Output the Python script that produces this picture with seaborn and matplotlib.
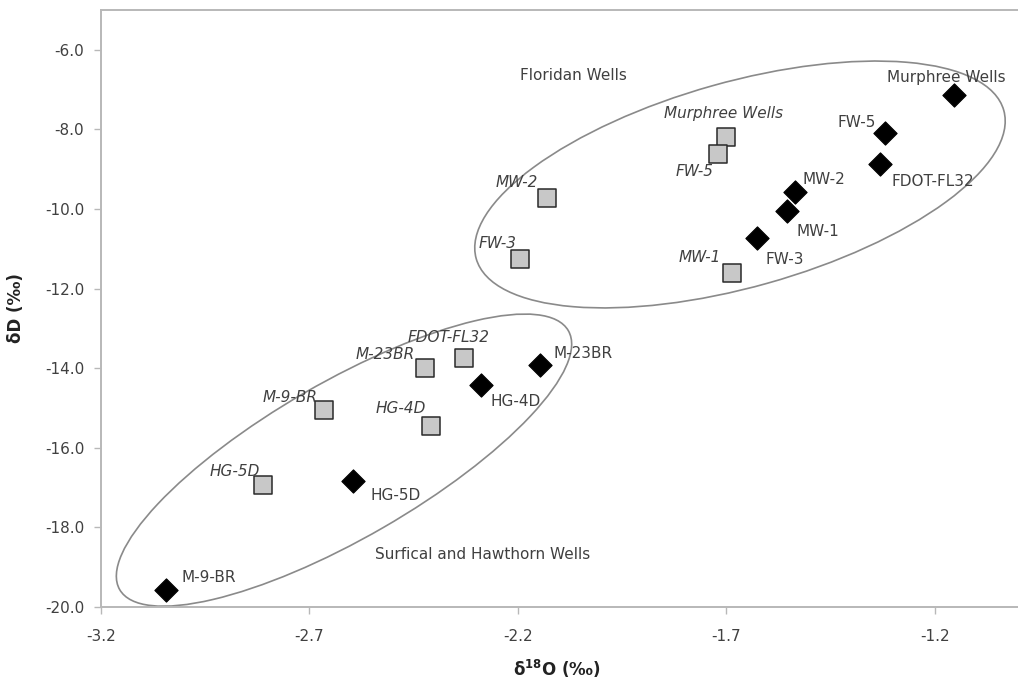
import matplotlib

matplotlib.use("Agg")
import matplotlib.pyplot as plt
import matplotlib.transforms as mtransforms
import pandas as pd
import seaborn as sns
from matplotlib.patches import Ellipse

sns.set_style("white")
plt.rcParams["font.family"] = ["DejaVu Sans"]
plt.rcParams["mathtext.fontset"] = "dejavusans"

# gray squares (italic labels)
square_labels = ["MW-2", "FW-3", "Murphree Wells", "FW-5", "MW-1",
                 "M-23BR", "FDOT-FL32", "HG-4D", "M-9-BR", "HG-5D"]
square_d18o = [-2.131, -2.195, -1.701, -1.719, -1.686, -2.422, -2.329, -2.408, -2.664, -2.811]
square_dd = [-9.72, -11.26, -8.19, -8.61, -11.60, -14.00, -13.74, -15.44, -15.06, -16.94]

# black diamonds (upright labels)
diamond_labels = ["Murphree Wells", "FW-5", "FDOT-FL32", "MW-2", "MW-1",
                  "FW-3", "M-23BR", "HG-4D", "HG-5D", "M-9-BR"]
diamond_d18o = [-1.153, -1.318, -1.331, -1.536, -1.553, -1.627, -2.146, -2.289, -2.596, -3.044]
diamond_dd = [-7.14, -8.10, -8.86, -9.57, -10.06, -10.74, -13.91, -14.41, -16.84, -19.58]

x_ticks = [-3.2, -2.7, -2.2, -1.7, -1.2]
y_ticks = [-6.0, -8.0, -10.0, -12.0, -14.0, -16.0, -18.0, -20.0]

group_names = ["Floridan Wells", "Surfical and Hawthorn Wells"]
group_centers = [(-1.667, -9.384), (-2.617, -16.31)]

# label placement, pixel offsets from the marker (dx, dy, ha)
square_offsets = {
    "MW-2": (-9, 15, "right"), "FW-3": (-3, 16, "right"),
    "Murphree Wells": (-2, 23, "center"), "FW-5": (-5, -18, "right"),
    "MW-1": (-11, 15, "right"), "M-23BR": (-10, 14, "right"),
    "FDOT-FL32": (-15, 20, "center"), "HG-4D": (-5, 17, "right"),
    "M-9-BR": (-7, 13, "right"), "HG-5D": (-3, 14, "right"),
}
diamond_offsets = {
    "Murphree Wells": (-8, 18, "center"), "FW-5": (-10, 11, "right"),
    "FDOT-FL32": (11, -18, "left"), "MW-2": (8, 12, "left"),
    "MW-1": (9, -20, "left"), "FW-3": (9, -21, "left"),
    "M-23BR": (13, 11, "left"), "HG-4D": (10, -17, "left"),
    "HG-5D": (18, -14, "left"), "M-9-BR": (15, 13, "left"),
}
group_text_pos = [(-2.066, -6.654), (-2.284, -18.68)]
# ellipse shape in pixels: semi-major, semi-minor, angle
ellipse_shapes = [(274, 102.5, 15.7), (259, 78, 30.0)]

TEXT = "#404040"
GRID = "#b8b8b8"

df_sq = pd.DataFrame({"d18O": square_d18o, "dD": square_dd, "label": square_labels})
df_di = pd.DataFrame({"d18O": diamond_d18o, "dD": diamond_dd, "label": diamond_labels})

fig = plt.figure(figsize=(10.18, 6.88), dpi=100)
ax = fig.add_axes([101 / 1018, 1 - 607 / 688, 917 / 1018, 597 / 688])

ax.set_xlim(-3.2, -1.0)
ax.set_ylim(-20.0, -5.0)

for (cx, cy), (a, b, ang) in zip(group_centers, ellipse_shapes):
    trans = fig.dpi_scale_trans + mtransforms.ScaledTranslation(cx, cy, ax.transData)
    ax.add_patch(Ellipse((0, 0), 2 * a / 100, 2 * b / 100, angle=ang,
                         transform=trans, fill=False, edgecolor="#8a8a8a", lw=1.2))

sns.scatterplot(data=df_sq, x="d18O", y="dD", marker="s", s=172, color="#c8c8c8",
                edgecolor="#2a2a2a", linewidth=1.1, ax=ax, zorder=3)
sns.scatterplot(data=df_di, x="d18O", y="dD", marker="D", s=140, color="black",
                edgecolor="black", linewidth=0.8, ax=ax, zorder=3)

for _, row in df_sq.iterrows():
    dx, dy, ha = square_offsets[row["label"]]
    ax.annotate(row["label"], (row["d18O"], row["dD"]), xytext=(dx, dy),
                textcoords="offset pixels", ha=ha, va="center", fontsize=11,
                style="italic", color=TEXT, zorder=4)
for _, row in df_di.iterrows():
    dx, dy, ha = diamond_offsets[row["label"]]
    ax.annotate(row["label"], (row["d18O"], row["dD"]), xytext=(dx, dy),
                textcoords="offset pixels", ha=ha, va="center", fontsize=11,
                color=TEXT, zorder=4)

for name, (tx, ty) in zip(group_names, group_text_pos):
    ax.text(tx, ty, name, ha="center", va="center", fontsize=11, color=TEXT)

ax.set_xticks(x_ticks)
ax.set_xticklabels([f"{v:.1f}" for v in x_ticks])
ax.set_yticks(y_ticks)
ax.set_yticklabels([f"{v:.1f}" for v in y_ticks])
ax.tick_params(axis="both", direction="out", length=5, width=1, color=GRID,
               labelsize=11, labelcolor=TEXT, left=True, bottom=True)
ax.tick_params(axis="x", pad=11)
ax.tick_params(axis="y", pad=7)

for side in ["left", "bottom", "top"]:
    ax.spines[side].set_color(GRID)
    ax.spines[side].set_linewidth(1.4)
ax.spines["right"].set_visible(False)

ax.set_xlabel(r"δ$^{\mathbf{18}}$O (‰)", fontsize=12, fontweight="bold",
              color="#222222", va="center")
ax.set_ylabel("δD (‰)", fontsize=12, fontweight="bold", color="#222222")
ax.xaxis.set_label_coords(0.497, -0.103)
ax.yaxis.set_label_coords(-0.083, 0.5)

fig.savefig("out.png", dpi=100)
